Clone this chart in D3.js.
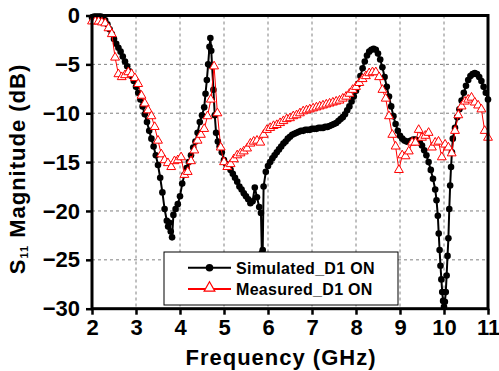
<!DOCTYPE html>
<html>
<head>
<meta charset="utf-8">
<script src="https://cdn.jsdelivr.net/npm/d3@7"></script>
<style>
  body { margin: 0; background: #fff; }
  svg text { font-family: "Liberation Sans", Arial, sans-serif; font-weight: bold; }
</style>
</head>
<body>
<script>
// simulated S11 (dB)
var simFreq = [2.00, 2.05, 2.10, 2.15, 2.20, 2.25, 2.30, 2.35, 2.40, 2.45,
    2.50, 2.55, 2.60, 2.65, 2.70, 2.75, 2.80, 2.85, 2.90, 2.95,
    3.00, 3.05, 3.10, 3.15, 3.20, 3.25, 3.30, 3.35, 3.40, 3.45,
    3.50, 3.55, 3.60, 3.65, 3.70, 3.73, 3.76, 3.79, 3.82, 3.85,
    3.90, 3.95, 4.00, 4.05, 4.10, 4.15, 4.20, 4.25, 4.30, 4.35,
    4.40, 4.45, 4.50, 4.55, 4.58, 4.61, 4.64, 4.67, 4.69, 4.71,
    4.73, 4.76, 4.79, 4.82, 4.86, 4.90, 4.95, 5.00, 5.05, 5.10,
    5.15, 5.20, 5.25, 5.30, 5.35, 5.40, 5.45, 5.50, 5.55, 5.60,
    5.65, 5.70, 5.75, 5.80, 5.84, 5.86, 5.88, 5.90, 5.95, 6.00,
    6.05, 6.10, 6.15, 6.20, 6.25, 6.30, 6.35, 6.40, 6.45, 6.50,
    6.55, 6.60, 6.65, 6.70, 6.75, 6.80, 6.85, 6.90, 6.95, 7.00,
    7.05, 7.10, 7.15, 7.20, 7.25, 7.30, 7.35, 7.40, 7.45, 7.50,
    7.55, 7.60, 7.65, 7.70, 7.75, 7.80, 7.85, 7.90, 7.95, 8.00,
    8.05, 8.10, 8.15, 8.20, 8.25, 8.30, 8.35, 8.40, 8.45, 8.50,
    8.55, 8.60, 8.65, 8.70, 8.75, 8.80, 8.85, 8.90, 8.95, 9.00,
    9.05, 9.10, 9.15, 9.20, 9.25, 9.30, 9.35, 9.40, 9.45, 9.50,
    9.55, 9.60, 9.65, 9.70, 9.75, 9.80, 9.83, 9.86, 9.88, 9.90,
    9.92, 9.94, 9.96, 9.98, 10.00, 10.02, 10.04, 10.06, 10.08, 10.10,
    10.12, 10.14, 10.16, 10.18, 10.20, 10.25, 10.30, 10.35, 10.40, 10.45,
    10.50, 10.55, 10.60, 10.65, 10.70, 10.75, 10.80, 10.85, 10.90, 10.95,
    11.00];
var simDb = [-0.2, -0.1, -0.1, -0.1, -0.1, -0.2, -0.5, -0.9, -1.4, -1.9,
    -2.4, -2.9, -3.3, -3.7, -4.2, -4.7, -5.2, -5.7, -6.2, -6.7,
    -7.3, -7.9, -8.6, -9.3, -10.1, -10.9, -11.8, -12.6, -13.4, -14.3,
    -15.3, -16.6, -18.1, -19.8, -21.0, -21.6, -21.2, -22.1, -22.7, -20.4,
    -19.8, -19.3, -18.5, -17.2, -16.3, -15.6, -15.0, -14.3, -13.5, -12.9,
    -12.0, -10.9, -10.2, -9.4, -8.0, -6.6, -5.0, -3.2, -2.3, -3.6,
    -5.2, -7.6, -10.2, -12.0, -12.9, -13.4, -14.0, -14.8, -15.2, -15.5,
    -15.8, -16.2, -16.6, -17.0, -17.5, -17.8, -18.2, -18.5, -18.8, -19.2,
    -19.0, -17.6, -18.6, -19.6, -20.2, -24.3, -24.0, -17.5, -16.0, -15.4,
    -15.0, -14.6, -14.3, -14.0, -13.7, -13.4, -13.1, -12.9, -12.6, -12.4,
    -12.2, -12.1, -12.0, -11.9, -11.8, -11.8, -11.7, -11.7, -11.7, -11.6,
    -11.6, -11.6, -11.5, -11.5, -11.5, -11.4, -11.4, -11.3, -11.2, -11.1,
    -11.0, -10.8, -10.6, -10.4, -10.1, -9.7, -9.3, -8.8, -8.3, -7.7,
    -7.0, -6.2, -5.4, -4.7, -4.1, -3.7, -3.5, -3.4, -3.5, -3.9,
    -4.5, -5.3, -6.3, -7.3, -8.3, -9.3, -10.3, -11.1, -11.8, -12.3,
    -12.6, -12.8, -12.9, -12.9, -12.8, -12.7, -12.7, -12.8, -13.0, -13.3,
    -13.8, -14.3, -15.0, -15.8, -16.7, -17.8, -18.9, -20.5, -22.3, -24.0,
    -25.6, -27.0, -28.3, -29.2, -29.8, -29.3, -28.3, -26.6, -24.6, -22.8,
    -19.8, -17.4, -15.5, -14.0, -12.6, -11.5, -10.4, -9.6, -8.7, -7.9,
    -7.2, -6.6, -6.2, -6.0, -5.9, -6.0, -6.3, -6.7, -7.3, -7.9,
    -8.6];

// measured S11 (dB)
var measFreq = [2.000, 2.075, 2.150, 2.225, 2.300, 2.375, 2.450, 2.525,
    2.600, 2.675, 2.750, 2.825, 2.900, 2.975, 3.050, 3.125,
    3.200, 3.275, 3.350, 3.425, 3.500, 3.575, 3.650, 3.725,
    3.800, 3.875, 3.950, 4.025, 4.100, 4.175, 4.250, 4.325,
    4.400, 4.475, 4.550, 4.625, 4.700, 4.775, 4.850, 4.925,
    5.000, 5.075, 5.150, 5.225, 5.300, 5.375, 5.450, 5.525,
    5.600, 5.675, 5.750, 5.825, 5.900, 5.975, 6.050, 6.125,
    6.200, 6.275, 6.350, 6.425, 6.500, 6.575, 6.650, 6.725,
    6.800, 6.875, 6.950, 7.025, 7.100, 7.175, 7.250, 7.325,
    7.400, 7.475, 7.550, 7.625, 7.700, 7.775, 7.850, 7.925,
    8.000, 8.075, 8.150, 8.225, 8.300, 8.375, 8.450, 8.525,
    8.600, 8.675, 8.750, 8.825, 8.900, 8.975, 9.050, 9.125,
    9.200, 9.275, 9.350, 9.425, 9.500, 9.575, 9.650, 9.725,
    9.800, 9.875, 9.950, 10.025, 10.100, 10.175, 10.250, 10.325,
    10.400, 10.475, 10.550, 10.625, 10.700, 10.775, 10.850, 10.925,
    11.000];
var measDb = [-0.6, -0.6, -0.6, -0.7, -0.8, -1.3, -1.9, -4.3,
    -6.0, -6.3, -6.1, -5.8, -6.0, -6.4, -7.0, -8.2,
    -9.0, -9.7, -10.3, -11.4, -12.8, -14.2, -14.8, -15.1,
    -15.5, -14.9, -14.8, -14.5, -16.3, -16.0, -14.9, -13.8,
    -12.8, -12.2, -11.6, -10.3, -8.6, -5.2, -10.0, -13.5,
    -15.0, -15.5, -15.2, -14.7, -14.3, -14.1, -13.9, -13.6,
    -13.1, -12.9, -12.8, -13.0, -12.2, -11.7, -11.5, -11.3,
    -11.2, -11.0, -10.8, -10.6, -10.5, -10.3, -10.2, -10.0,
    -9.8, -9.7, -9.6, -9.5, -9.4, -9.3, -9.2, -9.1,
    -9.0, -8.9, -8.8, -8.7, -8.5, -8.3, -8.0, -7.6,
    -7.3, -6.9, -6.5, -6.2, -5.9, -5.8, -5.8, -6.3,
    -7.6, -8.5, -10.3, -12.2, -13.4, -15.8, -14.3, -14.4,
    -13.9, -13.0, -13.0, -11.7, -12.5, -12.3, -12.0, -13.5,
    -13.0, -12.9, -14.5, -13.2, -13.5, -14.1, -11.8, -10.2,
    -9.3, -8.8, -8.6, -8.4, -8.9, -9.2, -9.6, -11.8,
    -12.5];

var xTicks = [2, 3, 4, 5, 6, 7, 8, 9, 10, 11];
var yTicks = [0, -5, -10, -15, -20, -25, -30];
var seriesNames = ["Simulated_D1 ON", "Measured_D1 ON"];

var W = 499, H = 371;
var margin = {top: 15.5, right: 11, bottom: 62.3, left: 92};
var pw = W - margin.left - margin.right,
    ph = H - margin.top - margin.bottom;

var svg = d3.select("body").append("svg")
    .attr("width", W)
    .attr("height", H);

var g = svg.append("g")
    .attr("transform", "translate(" + margin.left + "," + margin.top + ")");

var x = d3.scaleLinear().domain([2, 11]).range([0, pw]);
var y = d3.scaleLinear().domain([-30, 0]).range([ph, 0]);

// dashed grid
g.append("g").selectAll("line.vg")
    .data(xTicks.slice(1, -1))
    .enter().append("line")
    .attr("x1", function (d) { return x(d); })
    .attr("x2", function (d) { return x(d); })
    .attr("y1", 0).attr("y2", ph)
    .attr("stroke", "#808080").attr("stroke-width", 1)
    .attr("stroke-dasharray", "3,3");
g.append("g").selectAll("line.hg")
    .data(yTicks.slice(1, -1))
    .enter().append("line")
    .attr("y1", function (d) { return y(d); })
    .attr("y2", function (d) { return y(d); })
    .attr("x1", 0).attr("x2", pw)
    .attr("stroke", "#808080").attr("stroke-width", 1)
    .attr("stroke-dasharray", "3,3");

var simData = simFreq.map(function (f, i) { return [f, simDb[i]]; });
var measData = measFreq.map(function (f, i) { return [f, measDb[i]]; });

var line = d3.line()
    .x(function (d) { return x(d[0]); })
    .y(function (d) { return y(d[1]); });

// simulated: black line + filled dots
g.append("path")
    .datum(simData)
    .attr("d", line)
    .attr("fill", "none")
    .attr("stroke", "#000")
    .attr("stroke-width", 2);
g.append("g").selectAll("circle")
    .data(simData)
    .enter().append("circle")
    .attr("cx", function (d) { return x(d[0]); })
    .attr("cy", function (d) { return y(d[1]); })
    .attr("r", 3.3)
    .attr("fill", "#000");

// measured: red line + open triangles
var tri = d3.symbol().type(d3.symbolTriangle).size(34);
g.append("path")
    .datum(measData)
    .attr("d", line)
    .attr("fill", "none")
    .attr("stroke", "red")
    .attr("stroke-width", 1);
g.append("g").selectAll("path")
    .data(measData)
    .enter().append("path")
    .attr("d", tri)
    .attr("transform", function (d) { return "translate(" + x(d[0]) + "," + y(d[1]) + ")"; })
    .attr("fill", "#fff")
    .attr("stroke", "red")
    .attr("stroke-width", 1);

// axes
var xAxis = g.append("g")
    .attr("transform", "translate(0," + ph + ")")
    .call(d3.axisBottom(x).tickValues(xTicks).tickSize(6).tickSizeOuter(0).tickPadding(5));
var yAxis = g.append("g")
    .call(d3.axisLeft(y).tickValues(yTicks).tickSize(6).tickSizeOuter(0).tickPadding(6));
[xAxis, yAxis].forEach(function (a) {
    a.select(".domain").remove();
    a.selectAll("line").attr("stroke", "#000").attr("stroke-width", 2.5);
    a.selectAll("text")
        .attr("fill", "#000")
        .style("font-size", "22px")
        .style("font-family", "'Liberation Sans', Arial, sans-serif")
        .style("font-weight", "bold");
});

// frame
g.append("rect")
    .attr("x", 0).attr("y", 0)
    .attr("width", pw).attr("height", ph)
    .attr("fill", "none")
    .attr("stroke", "#000")
    .attr("stroke-width", 3);

// axis titles
svg.append("text")
    .attr("x", 281).attr("y", 365)
    .attr("text-anchor", "middle")
    .style("font-size", "22px")
    .style("letter-spacing", "1px")
    .text("Frequency (GHz)");

var yt = svg.append("text")
    .attr("transform", "translate(25,169) rotate(-90)")
    .attr("text-anchor", "middle")
    .style("font-size", "22px")
    .style("letter-spacing", "1px");
yt.append("tspan").text("S");
yt.append("tspan").attr("dy", 3).style("font-size", "11px").text("11");
yt.append("tspan").attr("dy", -3).text(" Magnitude (dB)");

// legend
var lg = svg.append("g");
lg.append("rect")
    .attr("x", 164).attr("y", 252)
    .attr("width", 234).attr("height", 53)
    .attr("fill", "#fff")
    .attr("stroke", "#000")
    .attr("stroke-width", 1);
var rows = [267.7, 289];
lg.append("line").attr("x1", 188).attr("x2", 231)
    .attr("y1", rows[0]).attr("y2", rows[0])
    .attr("stroke", "#000").attr("stroke-width", 2);
lg.append("circle").attr("cx", 209.5).attr("cy", rows[0]).attr("r", 3.8).attr("fill", "#000");
lg.append("line").attr("x1", 188).attr("x2", 231)
    .attr("y1", rows[1]).attr("y2", rows[1])
    .attr("stroke", "red").attr("stroke-width", 2);
lg.append("path")
    .attr("d", d3.symbol().type(d3.symbolTriangle).size(50))
    .attr("transform", "translate(209.5," + (rows[1] - 1) + ")")
    .attr("fill", "#fff").attr("stroke", "red").attr("stroke-width", 1.2);
seriesNames.forEach(function (name, i) {
    lg.append("text")
        .attr("x", 236).attr("y", rows[i] + 5.8)
        .style("font-size", "16px")
        .style("letter-spacing", "0.3px")
        .text(name);
});
</script>
</body>
</html>
